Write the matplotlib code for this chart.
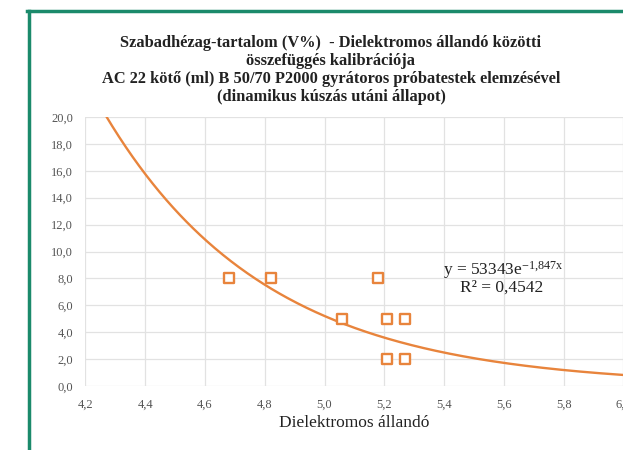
import numpy as np
import matplotlib
matplotlib.use("Agg")
import matplotlib.pyplot as plt
from matplotlib.lines import Line2D
from matplotlib.ticker import FuncFormatter

plt.rcParams["mathtext.fontset"] = "custom"
plt.rcParams["mathtext.rm"] = "Liberation Serif"
plt.rcParams["mathtext.it"] = "Liberation Serif:italic"

# Data
x_vals = [4.68, 4.82, 5.06, 5.18, 5.21, 5.27, 5.21, 5.27]
y_vals = [8.0, 8.0, 5.0, 8.0, 5.0, 5.0, 2.0, 2.0]

# Exponential trendline shown on the chart: y = a * exp(b x)
fit_a = 53343
fit_b = -1.847
r_squared = 0.4542

x_ticks = [4.2, 4.4, 4.6, 4.8, 5.0, 5.2, 5.4, 5.6, 5.8, 6.0]
y_ticks = [0, 2, 4, 6, 8, 10, 12, 14, 16, 18, 20]

title_lines = [
    "Szabadhézag-tartalom (V%)  - Dielektromos állandó közötti",
    "összefüggés kalibrációja",
    "AC 22 kötő (ml) B 50/70 P2000 gyrátoros próbatestek elemzésével",
    "(dinamikus kúszás utáni állapot)",
]
x_label = "Dielektromos állandó"

orange = "#E8843C"
serif = ["Liberation Serif", "DejaVu Serif"]

fig = plt.figure(figsize=(6.23, 4.5), dpi=100)
W, H = 623, 450

ax = fig.add_axes([85.4 / W, 1 - 386 / H, (1.8 * 298.9) / W, (386 - 117) / H])
ax.set_xlim(4.2, 6.0)
ax.set_ylim(0, 20)
ax.set_xticks(x_ticks)
ax.set_yticks(y_ticks)
ax.xaxis.set_major_formatter(FuncFormatter(lambda v, p: f"{v:.1f}".replace(".", ",")))
ax.yaxis.set_major_formatter(FuncFormatter(lambda v, p: f"{v:.1f}".replace(".", ",")))
for s in ax.spines.values():
    s.set_visible(False)
ax.grid(True, color="#e2e2e2", linewidth=0.9)
ax.set_axisbelow(True)
ax.tick_params(length=0, labelsize=9, labelcolor="#555555")
ax.tick_params(axis="x", pad=9)
ax.tick_params(axis="y", pad=9)
for lab in ax.get_xticklabels() + ax.get_yticklabels():
    lab.set_fontfamily(serif)

xs = np.linspace(4.2, 6.0, 400)
ax.plot(xs, fit_a * np.exp(fit_b * xs), color=orange, linewidth=1.7, clip_on=True)
ax.scatter(x_vals, y_vals, marker="s", s=60, facecolors="white",
           edgecolors=orange, linewidths=1.7, zorder=3)

ax.set_xlabel(x_label, fontsize=12.5, family=serif, color="#222222", labelpad=3)

b_str = f"{fit_b}".replace(".", "{,}")
ax.text(5.396, 8.62, f"y = {fit_a}e$^{{\\mathrm{{{b_str}x}}}}$",
        fontsize=12.5, family=serif, color="#222222", va="center")
ax.text(5.453, 7.29, f"R² = {r_squared}".replace(".", ","),
        fontsize=12.5, family=serif, color="#222222", va="center")

ys = [43, 61, 79, 97]
for t, yy in zip(title_lines, ys):
    fig.text(331 / W, 1 - yy / H, t, ha="center", va="center", fontsize=11.8,
             fontweight="bold", family=serif, color="#222222")

# green frame (left and top edges visible)
fig.add_artist(Line2D([28.5 / W, 28.5 / W], [0, 1 - 10.5 / H], transform=fig.transFigure,
                      color="#1B8A6B", linewidth=2.5))
fig.add_artist(Line2D([27.3 / W, 1], [1 - 10.5 / H, 1 - 10.5 / H], transform=fig.transFigure,
                      color="#1B8A6B", linewidth=2.5))

fig.savefig("out.png", dpi=100)
